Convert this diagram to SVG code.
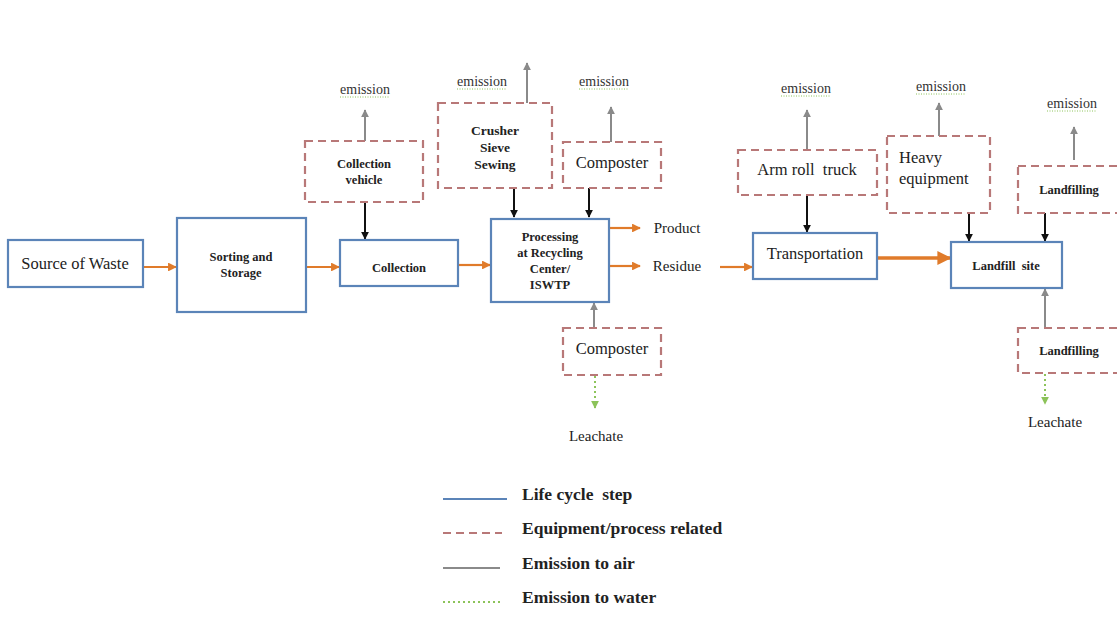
<svg xmlns="http://www.w3.org/2000/svg" width="1117" height="643" viewBox="0 0 1117 643" font-family="'Liberation Serif', 'Times New Roman', serif">
<defs>
<marker id="mo" viewBox="0 0 10 10" refX="9" refY="5" markerWidth="4" markerHeight="4" orient="auto"><path d="M0,0 L10,5 L0,10 z" fill="#e07b2a"/></marker>
<marker id="mk" viewBox="0 0 10 10" refX="9" refY="5" markerWidth="4" markerHeight="4" orient="auto"><path d="M0,0 L10,5 L0,10 z" fill="#111"/></marker>
<marker id="mg" viewBox="0 0 10 10" refX="9" refY="5" markerWidth="4" markerHeight="4" orient="auto"><path d="M0,0 L10,5 L0,10 z" fill="#8a8a8a"/></marker>
<marker id="mw" viewBox="0 0 10 10" refX="9" refY="5" markerWidth="4" markerHeight="4" orient="auto"><path d="M0,0 L10,5 L0,10 z" fill="#8cc35a"/></marker>
</defs>
<style>
text{font-family:"Liberation Serif","Times New Roman",serif}
.step{fill:#fff;stroke:#5b84b8;stroke-width:2.2}
.eq{fill:#fff;stroke:#b87878;stroke-width:2.2;stroke-dasharray:8,5}
.t{fill:#222;text-anchor:middle}
.b{font-weight:bold;font-size:12.5px}
.n{font-size:16.5px}
.em{font-size:14px;fill:#333;text-anchor:middle}
.ul{stroke:#8cc35a;stroke-width:1;stroke-dasharray:1,1.5}
.or{stroke:#e07b2a;stroke-width:2.2;fill:none;marker-end:url(#mo)}
.bk{stroke:#111;stroke-width:2;fill:none;marker-end:url(#mk)}
.gr{stroke:#8a8a8a;stroke-width:2;fill:none;marker-end:url(#mg)}
.wa{stroke:#8cc35a;stroke-width:2;stroke-dasharray:2,3;fill:none;marker-end:url(#mw)}
.lg{font-weight:bold;font-size:17.5px;fill:#222;white-space:pre}
</style>
<rect width="1117" height="643" fill="#fff"/>

<g id="connectors">
<line class="or" x1="143" y1="267" x2="176" y2="267"/>
<line class="or" x1="306" y1="267" x2="339" y2="267"/>
<line class="or" x1="458" y1="265" x2="490" y2="265"/>
<line class="or" x1="609" y1="228" x2="640" y2="228"/>
<line class="or" x1="609" y1="266" x2="640" y2="266"/>
<line class="or" x1="720" y1="267" x2="752" y2="267"/>
<line class="or" x1="877" y1="258" x2="950" y2="258" style="stroke-width:3.5"/>
<line class="bk" x1="365" y1="202" x2="365" y2="239"/>
<line class="bk" x1="514" y1="188" x2="514" y2="217"/>
<line class="bk" x1="589" y1="188" x2="589" y2="217"/>
<line class="bk" x1="807" y1="195" x2="807" y2="232"/>
<line class="bk" x1="969" y1="213" x2="969" y2="241"/>
<line class="bk" x1="1045" y1="213" x2="1045" y2="241"/>
<line class="gr" x1="365" y1="141" x2="365" y2="110"/>
<line class="gr" x1="527" y1="103" x2="527" y2="63"/>
<line class="gr" x1="611" y1="142" x2="611" y2="107"/>
<line class="gr" x1="807" y1="150" x2="807" y2="110"/>
<line class="gr" x1="939" y1="136" x2="939" y2="103"/>
<line class="gr" x1="1074" y1="160" x2="1074" y2="127"/>
<line class="gr" x1="594" y1="328" x2="594" y2="303"/>
<line class="gr" x1="1045" y1="327" x2="1045" y2="289"/>
<line class="wa" x1="595" y1="376" x2="595" y2="408"/>
<line class="wa" x1="1045" y1="374" x2="1045" y2="404"/>
</g>

<g id="source"><rect class="step" x="8" y="240" width="135" height="47"/><text class="t n" x="75" y="269">Source of Waste</text></g>
<g id="sorting"><rect class="step" x="177" y="218" width="129" height="94"/><text class="t b" x="241" y="261">Sorting and</text><text class="t b" x="241" y="277">Storage</text></g>
<g id="collection"><rect class="step" x="340" y="240" width="118" height="46"/><text class="t b" x="399" y="272">Collection</text></g>
<g id="processing"><rect class="step" x="491" y="219" width="118" height="83"/><text class="t b" x="550" y="241">Processing</text><text class="t b" x="550" y="257">at Recycling</text><text class="t b" x="550" y="273">Center/</text><text class="t b" x="550" y="289">ISWTP</text></g>
<g id="transportation"><rect class="step" x="753" y="233" width="124" height="46"/><text class="t n" x="815" y="259">Transportation</text></g>
<g id="landfill"><rect class="step" x="951" y="242" width="111" height="46"/><text class="t b" x="1006" y="270" style="white-space:pre">Landfill  site</text></g>

<g id="collection-vehicle"><rect class="eq" x="305" y="141" width="118" height="61"/><text class="t b" x="364" y="168">Collection</text><text class="t b" x="364" y="184">vehicle</text></g>
<g id="crusher"><rect class="eq" x="438" y="103" width="114" height="85"/><text class="t b" x="495" y="135" style="font-size:13.5px">Crusher</text><text class="t b" x="495" y="152" style="font-size:13.5px">Sieve</text><text class="t b" x="495" y="169" style="font-size:13.5px">Sewing</text></g>
<g id="composter-top"><rect class="eq" x="563" y="142" width="98" height="46"/><text class="t n" x="612" y="168">Composter</text></g>
<g id="composter-bottom"><rect class="eq" x="563" y="328" width="98" height="47"/><text class="t n" x="612" y="354">Composter</text></g>
<g id="armroll"><rect class="eq" x="738" y="150" width="139" height="45"/><text class="t n" x="807" y="175" style="white-space:pre">Arm roll  truck</text></g>
<g id="heavy"><rect class="eq" x="887" y="136" width="103" height="77"/><text class="t n" x="899" y="163" style="text-anchor:start">Heavy</text><text class="t n" x="899" y="184" style="text-anchor:start">equipment</text></g>
<g id="landfilling-top"><rect class="eq" x="1018" y="166" width="120" height="47"/><text class="t b" x="1069" y="194">Landfilling</text></g>
<g id="landfilling-bottom"><rect class="eq" x="1018" y="328" width="120" height="45"/><text class="t b" x="1069" y="355">Landfilling</text></g>

<g id="emissions">
<text class="em" x="365" y="94">emission</text><line class="ul" x1="340" y1="97" x2="390" y2="97"/>
<text class="em" x="482" y="86">emission</text><line class="ul" x1="457" y1="89" x2="507" y2="89"/>
<text class="em" x="604" y="86">emission</text><line class="ul" x1="579" y1="89" x2="629" y2="89"/>
<text class="em" x="806" y="93">emission</text><line class="ul" x1="781" y1="96" x2="831" y2="96"/>
<text class="em" x="941" y="91">emission</text><line class="ul" x1="916" y1="94" x2="966" y2="94"/>
<text class="em" x="1072" y="108">emission</text><line class="ul" x1="1047" y1="111" x2="1097" y2="111"/>
</g>

<g id="outputs">
<text class="t n" x="677" y="233" style="font-size:15px">Product</text>
<text class="t n" x="677" y="271" style="font-size:15px">Residue</text>
<text class="t n" x="596" y="441" style="font-size:15px">Leachate</text>
<text class="t n" x="1055" y="427" style="font-size:15px">Leachate</text>
</g>

<g id="legend">
<line x1="443" y1="499" x2="507" y2="499" stroke="#5b84b8" stroke-width="2.2"/>
<line x1="443" y1="533" x2="502" y2="533" stroke="#b87878" stroke-width="2.2" stroke-dasharray="8,5"/>
<line x1="443" y1="568" x2="500" y2="568" stroke="#8a8a8a" stroke-width="2.2"/>
<line x1="443" y1="602" x2="502" y2="602" stroke="#8cc35a" stroke-width="2" stroke-dasharray="2,3"/>
<text class="lg" x="522" y="500">Life cycle  step</text>
<text class="lg" x="522" y="534">Equipment/process related</text>
<text class="lg" x="522" y="569">Emission to air</text>
<text class="lg" x="522" y="603">Emission to water</text>
</g>
</svg>
